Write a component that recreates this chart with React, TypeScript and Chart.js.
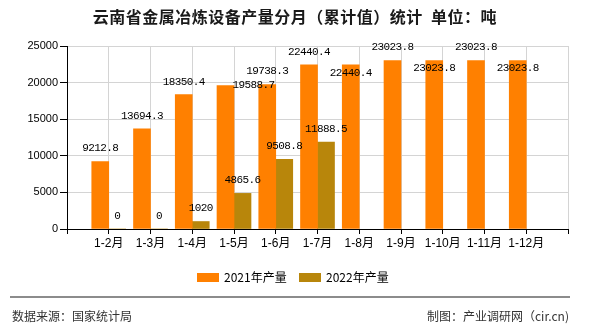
import React, { useEffect, useRef } from 'react';
import { Chart, registerables } from 'chart.js';

Chart.register(...registerables);

const titleText = '云南省金属冶炼设备产量分月（累计值）统计  单位：吨';
const categories = ['1-2月', '1-3月', '1-4月', '1-5月', '1-6月', '1-7月', '1-8月', '1-9月', '1-10月', '1-11月', '1-12月'];
const series2021Name = '2021年产量';
const series2022Name = '2022年产量';
const values2021 = [9212.8, 13694.3, 18350.4, 19588.7, 19738.3, 22440.4, 22440.4, 23023.8, 23023.8, 23023.8, 23023.8];
const values2022 = [0, 0, 1020, 4865.6, 9508.8, 11888.5, null, null, null, null, null];
const yTicks = [0, 5000, 10000, 15000, 20000, 25000];
const sourceText = '数据来源：国家统计局';
const creditText = '制图：产业调研网（cir.cn)';

const COLOR_2021 = '#FF8000';
const COLOR_2022 = '#B8860B';
const FONT = '"Liberation Sans", "Noto Sans CJK SC", sans-serif';
const CJK = '"Noto Sans CJK SC", "Liberation Sans", sans-serif';

// label nudges (dx, dy) by category index, used only to mimic the reference label collision layout
const nudges2021: Record<number, [number, number]> = { 3: [28, 12], 6: [0, 21], 8: [0, 21], 10: [0, 21] };
const nudges2022: Record<number, [number, number]> = {};

const valueLabels = {
  id: 'valueLabels',
  afterDatasetsDraw(chart: any) {
    const ctx = chart.ctx;
    ctx.save();
    ctx.font = '11px "Liberation Mono", "DejaVu Sans Mono", monospace';
    try { (ctx as any).letterSpacing = '-0.6px'; } catch (e) {}
    ctx.fillStyle = '#000';
    ctx.textAlign = 'center';
    ctx.textBaseline = 'middle';
    chart.data.datasets.forEach((ds: any, di: number) => {
      const meta = chart.getDatasetMeta(di);
      const nudges = ds.labelNudges || {};
      meta.data.forEach((bar: any, i: number) => {
        const v = ds.data[i];
        if (v === null || v === undefined) return;
        const n = nudges[i - 1] || [0, 0];
        ctx.fillText(String(v), bar.x + n[0], bar.y - 13 + n[1]);
      });
    });
    ctx.restore();
  },
};

export default function App() {
  const ref = useRef<HTMLCanvasElement | null>(null);

  useEffect(() => {
    document.body.style.margin = '0';
    const canvas = ref.current;
    if (!canvas) return;
    const labels = ['', ...categories, ''];
    const chart = new Chart(canvas, {
      type: 'bar',
      data: {
        labels,
        datasets: [
          {
            label: series2021Name,
            data: [null, ...values2021, null],
            backgroundColor: COLOR_2021,
            barThickness: 17,
            labelNudges: nudges2021,
          } as any,
          {
            label: series2022Name,
            data: [null, ...values2022, null],
            backgroundColor: COLOR_2022,
            barThickness: 17,
            labelNudges: nudges2022,
          } as any,
        ],
      },
      options: {
        responsive: false,
        animation: false,
        layout: { padding: { left: 0, right: 22, top: 46, bottom: 81 } },
        plugins: {
          legend: { display: false },
          title: { display: false },
          tooltip: { enabled: false },
        },
        scales: {
          x: {
            offset: false,
            grid: { offset: false, color: '#d4d4d4', tickColor: '#000', tickLength: 5 },
            border: { color: '#000', width: 1 },
            ticks: {
              autoSkip: false,
              maxRotation: 0,
              minRotation: 0,
              color: '#000',
              padding: 2,
              font: { size: 12, family: FONT },
            },
            afterFit: (s: any) => { s.height = 20; },
          },
          y: {
            min: 0,
            max: 25000,
            afterBuildTicks: (s: any) => { s.ticks = yTicks.map((v) => ({ value: v })); },
            grid: { color: '#d4d4d4', tickColor: '#000', tickLength: 7 },
            border: { color: '#000', width: 1 },
            ticks: {
              color: '#000',
              padding: 2,
              font: { size: 11, family: FONT },
              callback: (v: any) => String(v),
            },
            afterFit: (s: any) => { s.width = 67; },
          },
        },
      } as any,
      plugins: [valueLabels],
    });
    return () => chart.destroy();
  }, []);

  return (
    <div style={{ position: 'relative', width: 590, height: 330, background: '#fff', overflow: 'hidden' }}>
      <canvas ref={ref} width={590} height={330} style={{ position: 'absolute', left: 0, top: 0, width: 590, height: 330 }} />
      <div style={{ position: 'absolute', left: 0, top: 6, width: 590, textAlign: 'center', font: `bold 16px/20px ${CJK}`, letterSpacing: '0.5px', color: '#1a1a1a', whiteSpace: 'pre' }}>
        {titleText}
      </div>
      <div style={{ position: 'absolute', left: 197, top: 273, width: 22, height: 9, background: COLOR_2021 }} />
      <div style={{ position: 'absolute', left: 224, top: 269, font: `12px/16px ${CJK}`, color: '#000', whiteSpace: 'pre' }}>{series2021Name}</div>
      <div style={{ position: 'absolute', left: 299, top: 273, width: 22, height: 9, background: COLOR_2022 }} />
      <div style={{ position: 'absolute', left: 326, top: 269, font: `12px/16px ${CJK}`, color: '#000', whiteSpace: 'pre' }}>{series2022Name}</div>
      <div style={{ position: 'absolute', left: 10, top: 296, width: 560, height: 2, background: '#8c8c8c' }} />
      <div style={{ position: 'absolute', left: 12, top: 308, font: `12px/16px ${CJK}`, color: '#333', whiteSpace: 'pre' }}>{sourceText}</div>
      <div style={{ position: 'absolute', right: 21, top: 308, font: `12px/16px ${CJK}`, color: '#333', whiteSpace: 'pre', textAlign: 'right' }}>{creditText}</div>
    </div>
  );
}
